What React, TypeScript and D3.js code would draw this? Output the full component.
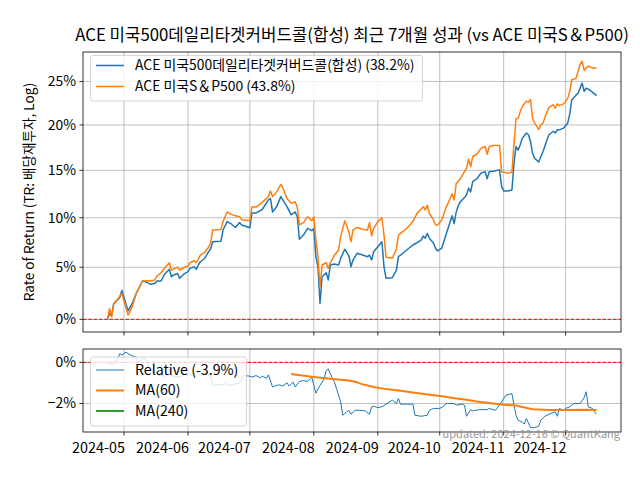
import { useEffect, useRef } from 'react';
import * as d3 from 'd3';

// Cumulative total return (%)
const dates = [
  '2024-04-23', '2024-04-24', '2024-04-25', '2024-04-26', '2024-04-28', '2024-04-29', '2024-04-30',
  '2024-05-03', '2024-05-05', '2024-05-07', '2024-05-10', '2024-05-12', '2024-05-14', '2024-05-16',
  '2024-05-17', '2024-05-19', '2024-05-20', '2024-05-21', '2024-05-23', '2024-05-24', '2024-05-25',
  '2024-05-27', '2024-05-28', '2024-05-30', '2024-06-01', '2024-06-02', '2024-06-04', '2024-06-05',
  '2024-06-06', '2024-06-07', '2024-06-09', '2024-06-11', '2024-06-12', '2024-06-13', '2024-06-17',
  '2024-06-18', '2024-06-20', '2024-06-22', '2024-06-24', '2024-06-26', '2024-06-27', '2024-07-01',
  '2024-07-02', '2024-07-04', '2024-07-07', '2024-07-10', '2024-07-11', '2024-07-12', '2024-07-14',
  '2024-07-16', '2024-07-17', '2024-07-19', '2024-07-21', '2024-07-23', '2024-07-24', '2024-07-25',
  '2024-07-27', '2024-07-29', '2024-07-31', '2024-08-01', '2024-08-02', '2024-08-03', '2024-08-04',
  '2024-08-05', '2024-08-07', '2024-08-08', '2024-08-09', '2024-08-11', '2024-08-13', '2024-08-14',
  '2024-08-16', '2024-08-18', '2024-08-19', '2024-08-20', '2024-08-22', '2024-08-25', '2024-08-27',
  '2024-08-28', '2024-08-29', '2024-08-30', '2024-09-01', '2024-09-03', '2024-09-04', '2024-09-05',
  '2024-09-08', '2024-09-10', '2024-09-11', '2024-09-12', '2024-09-15', '2024-09-18', '2024-09-20',
  '2024-09-22', '2024-09-23', '2024-09-24', '2024-09-25', '2024-09-26', '2024-09-28', '2024-09-29',
  '2024-09-30', '2024-10-02', '2024-10-04', '2024-10-07', '2024-10-08', '2024-10-09', '2024-10-10',
  '2024-10-11', '2024-10-13', '2024-10-14', '2024-10-15', '2024-10-16', '2024-10-17', '2024-10-19',
  '2024-10-21', '2024-10-23', '2024-10-24', '2024-10-25', '2024-10-27', '2024-10-30', '2024-10-31',
  '2024-11-01', '2024-11-03', '2024-11-05', '2024-11-06', '2024-11-07', '2024-11-08', '2024-11-09',
  '2024-11-10', '2024-11-12', '2024-11-13', '2024-11-14', '2024-11-15', '2024-11-16', '2024-11-18',
  '2024-11-19', '2024-11-20', '2024-11-22', '2024-11-23', '2024-11-25', '2024-11-26', '2024-11-27',
  '2024-11-28', '2024-11-30', '2024-12-02', '2024-12-03', '2024-12-04', '2024-12-06', '2024-12-07',
  '2024-12-08', '2024-12-09', '2024-12-10', '2024-12-11', '2024-12-12', '2024-12-14', '2024-12-16',
];

const coveredCall = [
  0, 0.55, 0.3, 1.45, 1.85, 2.1, 2.75,
  0.8, 1.5, 2.5, 3.66, 3.53, 3.34, 3.44,
  3.66, 3.66, 4.08, 4.4, 4.8, 4.08, 4.24,
  4.4, 3.92, 4.34, 4.57, 4.9, 5.06, 4.8,
  5.23, 5.55, 5.85, 6.55, 6.85, 7.55, 7.6,
  8.74, 9.6, 9.36, 9.0, 9.5, 9.26, 8.97,
  10.5, 10.5, 10.85, 11.85, 12.0, 10.6, 11.15,
  12.2, 11.85, 11.15, 10.3, 10.6, 10.1, 7.8,
  8.23, 8.9, 8.67, 8.9, 6.05, 5.06, 1.5,
  4.08, 4.47, 3.76, 5.23, 5.32, 5.23, 5.88,
  6.8, 6.12, 5.06, 5.72, 6.4, 6.2, 6.05,
  6.2, 5.72, 6.55, 7.05, 7.55, 5.06, 3.92,
  3.98, 4.73, 6.05, 6.2, 6.72, 7.22, 7.45,
  7.72, 8.13, 7.9, 8.4, 7.9, 7.4, 6.9,
  6.62, 6.9, 8.23, 10.2, 9.4, 10.6, 11.25,
  11.65, 12.1, 12.4, 13.1, 12.7, 13.8, 14.1,
  14.7, 14.85, 14.1, 14.85, 14.9, 15.05, 13.25,
  12.8, 12.8, 12.9, 15.8, 17.6, 17.2, 17.8,
  18.5, 19.1, 18.9, 18.15, 16.85, 16.3, 15.9,
  16.5, 17.0, 18.35, 18.9, 19.3, 19.1, 19.45,
  19.45, 19.65, 20.2, 21.2, 22.85, 23.4, 23.6,
  24.2, 24.8, 23.85, 24.2, 24.1, 23.75, 23.35,
];

const sp500 = [
  0, 1.0, 0.24, 1.5, 1.9, 2.2, 2.45,
  0.4, 1.2, 2.47, 3.66, 3.69, 3.66, 3.76,
  4.15, 4.47, 4.73, 5.0, 5.45, 4.73, 4.83,
  5.0, 4.73, 4.96, 5.13, 5.45, 5.65, 5.45,
  5.8, 6.2, 6.45, 7.0, 7.45, 8.74, 8.8,
  9.6, 10.6, 10.35, 10.2, 10.1, 9.8, 9.68,
  11.1, 11.1, 11.6, 12.2, 12.8, 12.2, 12.7,
  13.5, 13.1, 12.0, 11.5, 11.65, 11.1, 9.26,
  9.5, 10.1, 9.68, 10.1, 7.72, 6.05, 3.1,
  5.23, 5.45, 4.9, 5.45, 6.2, 6.72, 8.07,
  9.68, 8.5, 7.55, 8.74, 9.0, 8.8, 8.74,
  9.5, 8.13, 8.9, 9.6, 10.0, 8.23, 6.0,
  5.9, 6.8, 8.2, 8.4, 8.9, 9.6, 10.45,
  10.9, 11.15, 10.8, 11.3, 10.45, 9.77, 9.26,
  9.26, 9.77, 11.0, 12.5, 11.85, 13.6, 13.8,
  14.1, 14.85, 15.2, 16.2, 15.4, 16.5, 16.75,
  17.4, 17.6, 16.75, 17.6, 17.7, 17.7, 14.85,
  14.8, 14.7, 14.8, 17.95, 20.7, 20.75, 21.5,
  22.1, 22.7, 22.6, 22.9, 20.75, 20.2, 19.5,
  20.0, 20.2, 21.5, 22.0, 22.3, 21.9, 22.4,
  22.2, 22.4, 23.0, 23.8, 25.2, 25.35, 26.1,
  27.0, 27.4, 26.3, 26.6, 26.8, 26.6, 26.6,
];

// Relative performance (%), lower panel
const relDates = [
  '2024-04-23', '2024-04-25', '2024-04-26', '2024-04-28', '2024-04-29', '2024-04-30', '2024-05-02',
  '2024-05-03', '2024-05-05', '2024-05-07', '2024-05-08', '2024-05-10', '2024-05-12', '2024-05-13',
  '2024-05-15', '2024-05-18', '2024-05-21', '2024-05-23', '2024-05-25', '2024-05-28', '2024-05-30',
  '2024-06-02', '2024-06-03', '2024-06-05', '2024-06-07', '2024-06-10', '2024-06-12', '2024-06-13',
  '2024-06-16', '2024-06-19', '2024-06-21', '2024-06-23', '2024-06-26', '2024-06-28', '2024-07-01',
  '2024-07-02', '2024-07-04', '2024-07-06', '2024-07-07', '2024-07-09', '2024-07-10', '2024-07-12',
  '2024-07-14', '2024-07-15', '2024-07-17', '2024-07-19', '2024-07-20', '2024-07-22', '2024-07-23',
  '2024-07-25', '2024-07-27', '2024-07-29', '2024-07-30', '2024-07-31', '2024-08-02', '2024-08-04',
  '2024-08-06', '2024-08-07', '2024-08-08', '2024-08-09', '2024-08-11', '2024-08-12', '2024-08-14',
  '2024-08-15', '2024-08-17', '2024-08-18', '2024-08-19', '2024-08-21', '2024-08-23', '2024-08-26',
  '2024-08-28', '2024-08-29', '2024-08-30', '2024-09-01', '2024-09-03', '2024-09-06', '2024-09-08',
  '2024-09-10', '2024-09-11', '2024-09-12', '2024-09-15', '2024-09-18', '2024-09-19', '2024-09-22',
  '2024-09-25', '2024-09-26', '2024-09-28', '2024-10-01', '2024-10-03', '2024-10-04', '2024-10-08',
  '2024-10-09', '2024-10-12', '2024-10-13', '2024-10-14', '2024-10-16', '2024-10-17', '2024-10-20',
  '2024-10-24', '2024-10-25', '2024-10-28', '2024-10-30', '2024-11-01', '2024-11-02', '2024-11-05',
  '2024-11-06', '2024-11-07', '2024-11-08', '2024-11-10', '2024-11-11', '2024-11-12', '2024-11-14',
  '2024-11-16', '2024-11-18', '2024-11-19', '2024-11-21', '2024-11-23', '2024-11-26', '2024-11-27',
  '2024-11-28', '2024-11-30', '2024-12-01', '2024-12-03', '2024-12-05', '2024-12-08', '2024-12-10',
  '2024-12-11', '2024-12-12', '2024-12-14', '2024-12-15', '2024-12-16',
];

const relative = [
  0, -0.12, -0.07, 0.2, 0.42, 0.36, 0.5,
  0.42, 0.32, 0.26, 0, 0.2, 0.08, -0.16,
  -0.45, -0.64, -0.67, -0.56, -0.67, -0.72, -0.6,
  -0.56, -0.67, -0.48, -0.6, -0.6, -0.67, -1.12,
  -1.09, -1.04, -1.12, -1.09, -0.99, -0.64, -0.67,
  -0.72, -0.64, -0.75, -0.67, -0.77, -0.61, -1.2,
  -1.12, -1.09, -1.15, -0.99, -1.15, -0.96, -1.2,
  -0.93, -0.88, -0.93, -0.8, -0.72, -1.5, -1.12,
  -0.8, -0.4, -0.32, -0.56, -0.96, -1.28, -1.92,
  -2.57, -2.4, -2.33, -2.52, -2.33, -2.33, -2.36,
  -2.52, -2.16, -2.13, -2.2, -2.16, -1.97, -1.84,
  -2.0, -1.76, -2.03, -2.03, -2.03, -2.57, -2.62,
  -2.57, -2.33, -2.24, -2.24, -2.13, -2.0, -2.0,
  -2.08, -2.03, -2.08, -2.62, -2.3, -2.36, -2.3,
  -2.3, -2.24, -2.33, -2.08, -1.76, -1.6, -1.52,
  -2.08, -2.57, -2.81, -2.9, -3.0, -2.73, -3.17,
  -3.17, -3.1, -2.81, -2.62, -2.52, -2.4, -2.62,
  -2.24, -2.33, -2.24, -2.16, -2.0, -2.0, -1.71,
  -1.43, -2.16, -2.24, -2.4, -2.52,
];

// 60-day moving average of the relative line
const maDates = [
  '2024-07-21', '2024-07-31', '2024-08-10', '2024-08-18', '2024-08-22', '2024-08-25', '2024-08-30',
  '2024-09-05', '2024-09-12', '2024-09-18', '2024-09-26', '2024-10-03', '2024-10-09', '2024-10-14',
  '2024-10-19', '2024-10-25', '2024-11-01', '2024-11-07', '2024-11-10', '2024-11-15', '2024-11-23',
  '2024-12-01', '2024-12-10', '2024-12-16',
];

const ma60 = [
  -0.57, -0.7, -0.81, -0.88, -0.97, -1.08, -1.2,
  -1.3, -1.38, -1.47, -1.57, -1.66, -1.76, -1.82,
  -1.9, -1.98, -2.06, -2.1, -2.17, -2.28, -2.31,
  -2.31, -2.3, -2.31,
];

const monthTicks = [
  '2024-05-01', '2024-06-01', '2024-07-01', '2024-08-01',
  '2024-09-01', '2024-10-01', '2024-11-01', '2024-12-01',
];
const topTicks = [0, 5, 10, 15, 20, 25];
const bottomTicks = [0, -2];

const seriesNames = ['ACE 미국500데일리타겟커버드콜(합성) (38.2%)', 'ACE 미국S＆P500 (43.8%)'];
const relNames = ['Relative (-3.9%)', 'MA(60)', 'MA(240)'];
const title = 'ACE 미국500데일리타겟커버드콜(합성) 최근 7개월 성과 (vs ACE 미국S＆P500)';
const yLabel = 'Rate of Return (TR: 배당재투자, Log)';
const credit = 'updated: 2024-12-16 © QuantKang';

const FONT = '"Noto Sans CJK KR", "Noto Sans", sans-serif';
const BLUE = '#1f77b4';
const ORANGE = '#ff7f0e';
const GREEN = '#2ca02c';
const GRID = '#b0b0b0';

export default function App() {
  const svgRef = useRef<SVGSVGElement>(null);

  useEffect(() => {
    if (!svgRef.current) return;
    const svg = d3.select(svgRef.current);
    svg.selectAll('*').remove();
    svg.style('font-family', FONT);

    const parse = d3.timeParse('%Y-%m-%d');
    const left = 83;
    const right = 621;
    const top1 = 52;
    const bot1 = 332;
    const top2 = 349;
    const bot2 = 432;

    const main = dates.map((d, i) => ({ date: parse(d) as Date, cc: coveredCall[i], sp: sp500[i] }));
    const rel = relDates.map((d, i) => ({ date: parse(d) as Date, v: relative[i] }));
    const ma = maDates.map((d, i) => ({ date: parse(d) as Date, v: ma60[i] }));
    const months = monthTicks.map(d => parse(d) as Date);

    // x range padded 5% like matplotlib's default margins
    const [t0, t1] = d3.extent(main, d => d.date) as [Date, Date];
    const pad = (t1.getTime() - t0.getTime()) * 0.05;
    const x = d3.scaleTime()
      .domain([new Date(t0.getTime() - pad), new Date(t1.getTime() + pad)])
      .range([left, right]);

    const yTop = d3.scaleLog().domain([0.9882, 1.285]).range([bot1, top1]);
    const yBot = d3.scaleLinear().domain([-3.385, 0.65]).range([bot2, top2]);

    const defs = svg.append('defs');
    defs.append('clipPath').attr('id', 'clipTop')
      .append('rect').attr('x', left).attr('y', top1).attr('width', right - left).attr('height', bot1 - top1);
    defs.append('clipPath').attr('id', 'clipBot')
      .append('rect').attr('x', left).attr('y', top2).attr('width', right - left).attr('height', bot2 - top2);

    // Title
    svg.append('text')
      .attr('x', (left + right) / 2)
      .attr('y', 41)
      .attr('text-anchor', 'middle')
      .style('font-size', '16.8px')
      .text(title);

    // Grid lines
    const grid = svg.append('g').attr('stroke', GRID).attr('stroke-width', 0.8);
    months.forEach(m => {
      grid.append('line').attr('x1', x(m)).attr('x2', x(m)).attr('y1', top1).attr('y2', bot1);
      grid.append('line').attr('x1', x(m)).attr('x2', x(m)).attr('y1', top2).attr('y2', bot2);
    });
    topTicks.forEach(t => {
      grid.append('line').attr('x1', left).attr('x2', right).attr('y1', yTop(1 + t / 100)).attr('y2', yTop(1 + t / 100));
    });
    bottomTicks.forEach(t => {
      grid.append('line').attr('x1', left).attr('x2', right).attr('y1', yBot(t)).attr('y2', yBot(t));
    });

    // Zero reference lines
    svg.append('line')
      .attr('x1', left).attr('x2', right)
      .attr('y1', yTop(1)).attr('y2', yTop(1))
      .attr('stroke', 'red').attr('stroke-width', 1).attr('stroke-dasharray', '3.7,1.6');
    svg.append('line')
      .attr('x1', left).attr('x2', right)
      .attr('y1', yBot(0)).attr('y2', yBot(0))
      .attr('stroke', 'red').attr('stroke-width', 1).attr('stroke-dasharray', '3.7,1.6');

    // Top panel lines
    const ccLine = d3.line<typeof main[0]>().x(d => x(d.date)).y(d => yTop(1 + d.cc / 100));
    const spLine = d3.line<typeof main[0]>().x(d => x(d.date)).y(d => yTop(1 + d.sp / 100));
    const topG = svg.append('g').attr('clip-path', 'url(#clipTop)');
    topG.append('path').datum(main)
      .attr('fill', 'none').attr('stroke', BLUE).attr('stroke-width', 1.5)
      .attr('stroke-linejoin', 'round').attr('d', ccLine);
    topG.append('path').datum(main)
      .attr('fill', 'none').attr('stroke', ORANGE).attr('stroke-width', 1.5)
      .attr('stroke-linejoin', 'round').attr('d', spLine);

    // Bottom panel lines
    const relLine = d3.line<typeof rel[0]>().x(d => x(d.date)).y(d => yBot(d.v));
    const botG = svg.append('g').attr('clip-path', 'url(#clipBot)');
    botG.append('path').datum(rel)
      .attr('fill', 'none').attr('stroke', BLUE).attr('stroke-width', 1)
      .attr('stroke-linejoin', 'round').attr('d', relLine);
    botG.append('path').datum(ma)
      .attr('fill', 'none').attr('stroke', ORANGE).attr('stroke-width', 2)
      .attr('stroke-linejoin', 'round').attr('d', relLine);

    // Spines
    [[top1, bot1], [top2, bot2]].forEach(([a, b]) => {
      svg.append('rect')
        .attr('x', left).attr('y', a).attr('width', right - left).attr('height', b - a)
        .attr('fill', 'none').attr('stroke', 'black').attr('stroke-width', 0.8);
    });

    // Y ticks
    const tickG = svg.append('g').style('font-size', '13.9px');
    topTicks.forEach(t => {
      const y = yTop(1 + t / 100);
      tickG.append('line').attr('x1', left - 3.5).attr('x2', left).attr('y1', y).attr('y2', y)
        .attr('stroke', 'black').attr('stroke-width', 0.8);
      tickG.append('text').attr('x', left - 7).attr('y', y).attr('dy', '0.35em')
        .attr('text-anchor', 'end').text(`${t}%`);
    });
    bottomTicks.forEach(t => {
      const y = yBot(t);
      tickG.append('line').attr('x1', left - 3.5).attr('x2', left).attr('y1', y).attr('y2', y)
        .attr('stroke', 'black').attr('stroke-width', 0.8);
      tickG.append('text').attr('x', left - 7).attr('y', y).attr('dy', '0.35em')
        .attr('text-anchor', 'end').text(t < 0 ? `\u2212${Math.abs(t)}%` : `${t}%`);
    });

    // X ticks (both panels), labels only on the bottom one
    const fmt = d3.timeFormat('%Y-%m');
    months.forEach(m => {
      const xx = x(m);
      tickG.append('line').attr('x1', xx).attr('x2', xx).attr('y1', bot1).attr('y2', bot1 + 3.5)
        .attr('stroke', 'black').attr('stroke-width', 0.8);
      tickG.append('line').attr('x1', xx).attr('x2', xx).attr('y1', bot2).attr('y2', bot2 + 3.5)
        .attr('stroke', 'black').attr('stroke-width', 0.8);
      tickG.append('text').attr('x', xx + 1).attr('y', 452.5)
        .attr('text-anchor', 'end').style('font-size', '14.4px').text(fmt(m));
    });

    // Y label
    svg.append('text')
      .attr('transform', `translate(34,${(top1 + bot1) / 2}) rotate(-90)`)
      .attr('text-anchor', 'middle')
      .style('font-size', '13.6px')
      .text(yLabel);

    // Top legend
    const lg = svg.append('g');
    lg.append('rect')
      .attr('x', 90.5).attr('y', 55.5).attr('width', 332).attr('height', 45.5).attr('rx', 2.5)
      .attr('fill', 'white').attr('fill-opacity', 0.8)
      .attr('stroke', '#cccccc').attr('stroke-opacity', 0.8);
    [BLUE, ORANGE].forEach((c, i) => {
      const yy = 65.5 + i * 21;
      lg.append('line').attr('x1', 96).attr('x2', 124).attr('y1', yy).attr('y2', yy)
        .attr('stroke', c).attr('stroke-width', 1.5);
      lg.append('text').attr('x', 135).attr('y', yy).attr('dy', '0.35em')
        .style('font-size', '13.9px').text(seriesNames[i]);
    });

    // Bottom legend
    const lg2 = svg.append('g');
    lg2.append('rect')
      .attr('x', 90.5).attr('y', 357).attr('width', 156).attr('height', 69).attr('rx', 2.5)
      .attr('fill', 'white').attr('fill-opacity', 0.8)
      .attr('stroke', '#cccccc').attr('stroke-opacity', 0.8);
    [[BLUE, 1], [ORANGE, 2], [GREEN, 2]].forEach(([c, w], i) => {
      const yy = 370 + i * 20.5;
      lg2.append('line').attr('x1', 96).attr('x2', 124).attr('y1', yy).attr('y2', yy)
        .attr('stroke', c as string).attr('stroke-width', w as number);
      lg2.append('text').attr('x', 135).attr('y', yy).attr('dy', '0.35em')
        .style('font-size', '14.2px').text(relNames[i]);
    });

    // Credit
    svg.append('text')
      .attr('x', 620).attr('y', 437.5)
      .attr('text-anchor', 'end')
      .style('font-size', '11px')
      .style('fill', '#999999')
      .text(credit);
  }, []);

  return (
    <svg
      ref={svgRef}
      width={640}
      height={480}
      style={{ position: 'absolute', left: 0, top: 0, background: 'white' }}
    />
  );
}
